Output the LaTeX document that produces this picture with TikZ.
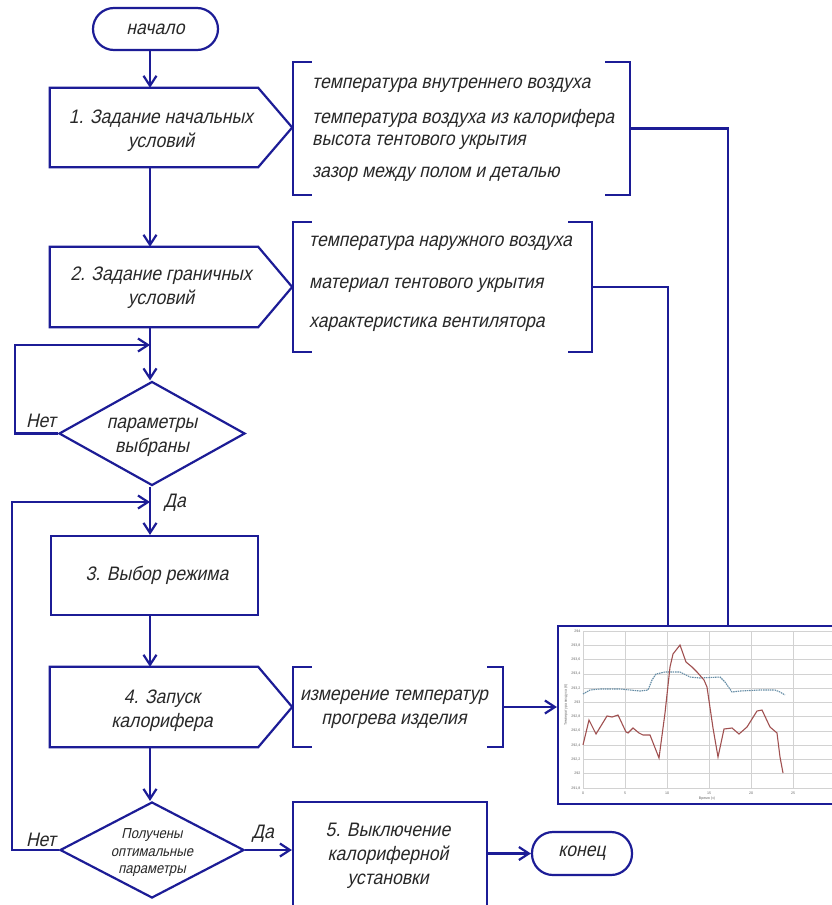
\documentclass[tikz,border=0pt]{standalone}
\usepackage{fontspec}
\setmainfont{Liberation Sans}[FakeStretch=0.9,FakeSlant=0.22]
\newfontfamily\chartfont{Liberation Sans}
\usetikzlibrary{arrows.meta,shapes.geometric,calc}
\definecolor{lc}{RGB}{28,28,150}
\definecolor{tc}{RGB}{40,40,40}
\definecolor{gridc}{RGB}{210,210,210}
\definecolor{bluec}{RGB}{100,140,165}
\definecolor{redc}{RGB}{160,80,80}
\tikzset{
  line/.style={draw=lc, line width=2.2pt, line join=miter},
  arr/.style={line, -{Straight Barb[length=10pt,width=13pt]}},
  txt/.style={text=tc, font=\fontsize{19.5}{24}\selectfont, align=center, inner sep=0pt},
  stxt/.style={text=tc, font=\fontsize{14.5}{17.5}\selectfont, align=center, inner sep=0pt},
  btxt/.style={txt, anchor=west},
  body/.style={draw=none, inner sep=0pt, minimum width=208pt},
  term/.style={line, rounded corners=21pt, inner sep=0pt, text=tc, font=\fontsize{19.5}{24}\selectfont},
  rbox/.style={line, inner sep=0pt},
  dia/.style={line, diamond, inner sep=0pt},
  brk/.style={draw=none, inner sep=0pt},
  ctick/.style={text=black!60, font=\chartfont\fontsize{3.6}{4}\selectfont, inner sep=0.5pt}
}
\begin{document}
\begin{tikzpicture}[x=1pt,y=-1pt]
\useasboundingbox[fill=white] (0,0) rectangle (832,905);
\coordinate (mx) at (150,0);
\coordinate (lx1) at (15,0);
\coordinate (lx2) at (12,0);

% start / end
\node[term, minimum width=125pt, minimum height=42pt] (start) at (155.5,29) {начало};
\node[term, minimum width=100pt, minimum height=43pt] (end) at (582,853.5) {конец};

% pentagon boxes
\node[body, minimum height=79pt] (b1) at (154,127.5) {};
\node[txt] (t1) at (161,131) {1. Задание начальных\\условий};
\draw[line] (b1.north west) -- (b1.north east) -- ($(b1.east)+(34,0)$) -- (b1.south east) -- (b1.south west) -- cycle;

\node[body, minimum height=80pt] (b2) at (154,287) {};
\node[txt] (t2) at (161,288) {2. Задание граничных\\условий};
\draw[line] (b2.north west) -- (b2.north east) -- ($(b2.east)+(34,0)$) -- (b2.south east) -- (b2.south west) -- cycle;

\node[body, minimum height=80pt] (b4) at (154,707) {};
\node[txt] (t4) at (162,711) {4. Запуск\\калорифера};
\draw[line] (b4.north west) -- (b4.north east) -- ($(b4.east)+(34,0)$) -- (b4.south east) -- (b4.south west) -- cycle;

% rectangles
\node[rbox, minimum width=207pt, minimum height=79pt] (b3) at (154.5,575.5) {};
\node[txt] (t3) at (157,575) {3. Выбор режима};
\node[rbox, minimum width=194pt, minimum height=112pt] (b5) at (390,858) {};
\node[txt] (t5) at (388,856) {5. Выключение\\калориферной\\установки};

% diamonds
\node[dia, minimum width=186pt, minimum height=104pt] (d1) at (152,433.5) {};
\node[txt] (td1) at (152,437) {параметры\\выбраны};
\node[dia, minimum width=184pt, minimum height=96pt] (d2) at (152,850) {};
\node[stxt] (td2) at (152,853) {Получены\\оптимальные\\параметры};

% brackets
\node[brk, minimum width=337pt, minimum height=133pt] (br1) at (461.5,128.5) {};
\draw[line] ($(br1.north west)+(19,0)$) -- (br1.north west) -- (br1.south west) -- ($(br1.south west)+(19,0)$);
\draw[line] ($(br1.north east)+(-25,0)$) -- (br1.north east) -- (br1.south east) -- ($(br1.south east)+(-25,0)$);
\node[btxt] (p11) at (312,85) {температура внутреннего воздуха};
\node[btxt] (p12) at (312,118) {температура воздуха из калорифера};
\node[btxt] (p13) at (312,142) {высота тентового укрытия};
\node[btxt] (p14) at (312,174) {зазор между полом и деталью};

\node[brk, minimum width=299pt, minimum height=130pt] (br2) at (442.5,287) {};
\draw[line] ($(br2.north west)+(19,0)$) -- (br2.north west) -- (br2.south west) -- ($(br2.south west)+(19,0)$);
\draw[line] ($(br2.north east)+(-24,0)$) -- (br2.north east) -- (br2.south east) -- ($(br2.south east)+(-24,0)$);
\node[btxt] (p21) at (309,243) {температура наружного воздуха};
\node[btxt] (p22) at (309,285) {материал тентового укрытия};
\node[btxt] (p23) at (309,324) {характеристика вентилятора};

\node[brk, minimum width=210pt, minimum height=80pt] (br3) at (398,707) {};
\draw[line] ($(br3.north west)+(19,0)$) -- (br3.north west) -- (br3.south west) -- ($(br3.south west)+(19,0)$);
\draw[line] ($(br3.north east)+(-16,0)$) -- (br3.north east) -- (br3.south east) -- ($(br3.south east)+(-16,0)$);
\node[txt] (p31) at (394,709) {измерение температур\\прогрева изделия};

% chart
\node[line, fill=white, minimum width=287pt, minimum height=178pt, inner sep=0pt] (chart) at (701.5,715) {};
\foreach \x in {583,625,667,709,751,793} \draw[gridc, line width=0.6pt] (\x,631) -- (\x,788);
\foreach \v [count=\j from 0] in {{294},{293,8},{293,6},{293,4},{293,2},{293},{292,8},{292,6},{292,4},{292,2},{292},{291,8}} {
  \pgfmathsetmacro{\yy}{631+14.27*\j}
  \draw[gridc, line width=0.6pt] (583,\yy) -- (842,\yy);
  \node[ctick, anchor=east] at (581,\yy) {\v};
}
\foreach \x/\l in {583/0,625/5,667/10,709/15,751/20,793/25} \node[ctick, anchor=north] at (\x,791) {\l};
\node[ctick] at (707,799) {Время (ч)};
\node[ctick, rotate=90] at (566,705) {Температура воздуха (К)};
\draw[bluec, line width=1.1pt, dash pattern=on 1.5pt off 0.8pt]
  (583,694) -- (590,690) -- (600,689) -- (620,689) -- (640,691) -- (648,690) -- (652,680) -- (656,674) -- (665,672) -- (680,672) -- (690,677) -- (700,678) -- (720,677) -- (725,682) -- (732,692) -- (740,691) -- (760,690) -- (775,690) -- (780,692) -- (785,695);
\draw[redc, line width=1.1pt]
  (583,745) -- (589,720) -- (596,734) -- (607,716) -- (612,717) -- (618,715) -- (626,732) -- (628,733) -- (633,728) -- (639,733) -- (643,735) -- (650,735) -- (659,758) -- (665,713) -- (670,667) -- (673,654) -- (680,645) -- (686,662) -- (692,667) -- (697,672) -- (704,680) -- (707,687) -- (713,728) -- (718,757) -- (724,729) -- (732,728) -- (739,734) -- (747,727) -- (757,711) -- (762,710) -- (770,727) -- (777,733) -- (780,757) -- (783,773);

% connectors
\draw[arr] (start.south -| mx) -- (b1.north -| mx);
\draw[arr] (b1.south -| mx) -- (b2.north -| mx);
\draw[arr] (b2.south -| mx) -- (d1.north -| mx);
\coordinate (j1) at (150,345);
\coordinate (j2) at (150,502);
\draw[arr] (d1.west) -- (d1.west -| lx1) |- (j1);
\draw[arr] (d1.south -| mx) -- (b3.north -| mx);
\draw[arr] (b3.south -| mx) -- (b4.north -| mx);
\draw[arr] (b4.south -| mx) -- (d2.north -| mx);
\draw[arr] (d2.west) -- (d2.west -| lx2) |- (j2);
\draw[arr] (d2.east) -- (d2.east -| b5.west);
\draw[arr] (b5.east |- end) -- (end.west);
\draw[arr] (br3.east) -- (br3.east -| chart.west);
\draw[line] (br1.east) -| ([xshift=26.5pt]chart.north);
\draw[line] (br2.east) -| ([xshift=-33.5pt]chart.north);

% labels
\node[txt] (n1) at (41,421) {Нет};
\node[txt] (y1) at (175,503) {Да};
\node[txt] (n2) at (41,840) {Нет};
\node[txt] (y2) at (263,834) {Да};
\end{tikzpicture}
\end{document}
